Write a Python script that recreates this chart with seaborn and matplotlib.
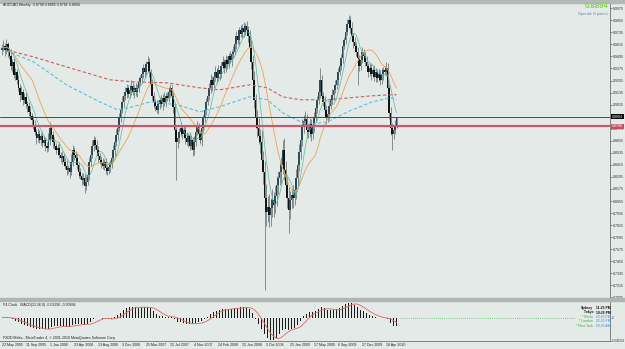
import numpy as np
import pandas as pd
import matplotlib
matplotlib.use("Agg")
import matplotlib.pyplot as plt
import matplotlib.transforms as mtransforms
from matplotlib.patches import Rectangle
import seaborn as sns

# ---------------- data ----------------
chart_title = "AUDCAD,Weekly  0.8798 0.8895 0.8781 0.8894"
bid_text = "0.8894"
spread_text = "Spread: 8 points"
bid_price = 0.8894
red_line_price = 0.8798
red_line_text = "0.8798"
macd_title = "P4 Clock   MACD(12,26,9) -0.01296 -0.00896"
copyright_text = "FXDD Malta - MetaTrader 4, \u00a9 2001-2010 MetaQuotes Software Corp."

first_open_pips = 9560
close_pips = [
    9580, 9600, 9560, 9620, 9540, 9500, 9401, 9441, 9311, 9341,
    9262, 9182, 9113, 9143, 9063, 9093, 9023, 9003, 8944, 8904,
    8864, 8814, 8745, 8685, 8725, 8665, 8705, 8636, 8665, 8606,
    8586, 8665, 8785, 8715, 8645, 8606, 8566, 8586, 8516, 8486,
    8506, 8447, 8407, 8367, 8387, 8347, 8447, 8566, 8516, 8486,
    8417, 8347, 8308, 8268, 8288, 8208, 8248, 8318, 8447, 8516,
    8606, 8665, 8616, 8566, 8506, 8467, 8437, 8407, 8447, 8387,
    8357, 8397, 8427, 8486, 8566, 8645, 8715, 8785, 8884, 8964,
    9043, 9103, 9143, 9182, 9123, 9162, 9202, 9143, 9182, 9143,
    9182, 9242, 9281, 9321, 9381, 9341, 9421, 9441, 9341, 9222,
    9103, 9043, 9003, 8964, 9023, 9063, 9023, 9083, 9043, 9103,
    9083, 9143, 9182, 9103, 8994, 8765, 8645, 8685, 8745, 8785,
    8725, 8765, 8685, 8645, 8705, 8606, 8665, 8566, 8645, 8745,
    8804, 8725, 8665, 8785, 8884, 8964, 9043, 9103, 9182, 9262,
    9212, 9291, 9341, 9281, 9361, 9321, 9401, 9441, 9381, 9461,
    9421, 9500, 9461, 9520, 9540, 9620, 9699, 9659, 9759, 9719,
    9779, 9739, 9798, 9759, 9699, 9580, 9441, 9262, 9063, 8884,
    8785, 8705, 8645, 8467, 8347, 8089, 7950, 8000, 7920, 7990,
    8069, 8019, 8109, 8218, 8288, 8347, 8417, 8566, 8367, 8218,
    8089, 7970, 8069, 8119, 8089, 8168, 8288, 8417, 8546, 8665,
    8804, 8854, 8874, 8765, 8745, 8824, 8725, 8804, 8884, 8984,
    9063, 9143, 9262, 9103, 9043, 8964, 8884, 8924, 9003, 9063,
    9113, 9162, 9212, 9262, 9341, 9401, 9480, 9600, 9659, 9739,
    9818, 9858, 9779, 9699, 9640, 9600, 9540, 9480, 9401, 9461,
    9540, 9500, 9441, 9401, 9341, 9381, 9321, 9361, 9291, 9341,
    9281, 9321, 9262, 9321, 9361, 9341, 9381, 9182, 8934, 8785,
    8725, 8765, 8798, 8894,
]
upper_wick_10pips = [
    4, 6, 3, 5, 2, 4, 7, 3, 5, 4,
    3, 5, 4, 6, 3, 4, 5, 3, 4, 6,
    3, 4, 5, 3, 6, 4, 3, 5, 4, 3,
    4, 7, 6, 3, 4, 5, 3, 4, 6, 3,
    5, 3, 4, 6, 3, 4, 8, 5, 3, 4,
    5, 3, 4, 3, 5, 4, 6, 4, 5, 3,
    6, 4, 3, 5, 4, 3, 4, 5, 3, 4,
    3, 5, 4, 3, 5, 4, 6, 3, 5, 4,
    6, 3, 5, 4, 3, 5, 6, 4, 3, 5,
    4, 5, 3, 6, 4, 5, 3, 6, 4, 3,
    5, 4, 3, 6, 4, 3, 5, 4, 6, 3,
    4, 5, 4, 3, 5, 4, 3, 5, 4, 6,
    3, 5, 4, 6, 3, 4, 5, 3, 6, 4,
    5, 3, 4, 6, 3, 5, 4, 3, 5, 6,
    4, 3, 6, 4, 5, 3, 4, 6, 3, 5,
    4, 3, 5, 4, 6, 3, 5, 4, 3, 5,
    4, 6, 3, 5, 4, 6, 8, 7, 9, 6,
    8, 10, 7, 12, 9, 11, 14, 10, 12, 9,
    11, 8, 10, 9, 7, 10, 8, 10, 12, 9,
    8, 11, 9, 7, 10, 8, 9, 7, 8, 6,
    7, 6, 8, 5, 7, 6, 5, 7, 6, 5,
    4, 6, 12, 5, 4, 6, 5, 3, 5, 4,
    6, 4, 5, 3, 4, 6, 4, 5, 3, 4,
    5, 5, 4, 6, 3, 5, 4, 5, 3, 4,
    5, 3, 4, 6, 3, 5, 4, 3, 5, 4,
    3, 5, 4, 6, 3, 4, 6, 5, 4, 6,
    5, 4, 6, 0,
]
lower_wick_10pips = [
    5, 3, 6, 4, 5, 3, 4, 6, 3, 5,
    4, 3, 6, 4, 5, 3, 4, 6, 4, 3,
    5, 4, 3, 6, 4, 3, 5, 4, 3, 5,
    4, 3, 5, 4, 6, 3, 4, 5, 3, 4,
    6, 4, 3, 5, 4, 6, 3, 4, 5, 3,
    4, 6, 3, 5, 4, 7, 4, 3, 5, 4,
    3, 5, 4, 3, 6, 4, 5, 3, 4, 6,
    4, 3, 5, 4, 3, 6, 4, 5, 3, 4,
    3, 5, 4, 6, 3, 4, 5, 3, 6, 4,
    5, 4, 3, 5, 4, 6, 3, 4, 5, 6,
    4, 6, 5, 3, 4, 5, 3, 6, 4, 5,
    3, 4, 5, 4, 6, 5, 38, 6, 5, 4,
    5, 4, 6, 3, 5, 4, 3, 6, 5, 4,
    3, 5, 4, 6, 3, 4, 5, 3, 4, 5,
    6, 3, 4, 5, 3, 6, 4, 3, 5, 4,
    5, 4, 3, 6, 4, 3, 5, 4, 6, 3,
    4, 5, 3, 4, 6, 5, 7, 9, 8, 10,
    9, 8, 11, 10, 12, 92, 14, 10, 12, 11,
    9, 12, 8, 10, 9, 7, 11, 9, 10, 12,
    10, 23, 9, 8, 10, 7, 9, 8, 6, 7,
    6, 7, 5, 8, 6, 5, 7, 5, 6, 4,
    5, 4, 6, 5, 4, 5, 6, 4, 5, 3,
    4, 5, 3, 4, 5, 3, 4, 5, 3, 4,
    3, 4, 5, 4, 6, 5, 4, 27, 5, 4,
    3, 5, 4, 3, 5, 4, 6, 3, 4, 5,
    4, 3, 5, 4, 6, 3, 4, 5, 6, 7,
    16, 5, 4, 2,
]

# slow moving averages (week index, price in pips)
red_ma_weeks = [4, 21, 43, 61, 72, 87, 110, 132, 145, 165, 177, 187, 199, 217, 232, 247, 259, 263]
red_ma_pips = [9555, 9490, 9391, 9311, 9262, 9242, 9232, 9182, 9162, 9212, 9182, 9093, 9063, 9063, 9083, 9103, 9113, 9113]
blue_ma_weeks = [3, 21, 43, 65, 77, 87, 99, 117, 132, 145, 165, 177, 187, 203, 217, 232, 247, 259, 263]
blue_ma_pips = [9550, 9441, 9212, 9043, 8964, 8993, 9043, 9013, 8944, 8993, 9093, 9063, 8934, 8814, 8844, 8954, 9043, 9083, 9063]

date_label_weeks = [0, 16, 32, 48, 64, 80, 96, 112, 128, 144, 160, 176, 192, 208, 224, 240, 256]
date_labels = ["22 May 2005", "11 Sep 2005", "1 Jan 2006", "23 Apr 2006", "13 Aug 2006",
               "3 Dec 2006", "25 Mar 2007", "15 Jul 2007", "4 Nov 2007", "24 Feb 2008",
               "15 Jun 2008", "5 Oct 2008", "25 Jan 2009", "17 May 2009", "6 Sep 2009",
               "27 Dec 2009", "18 Apr 2010"]

price_tick_labels = ["0.7095", "0.7215", "0.7335", "0.7455", "0.7575", "0.7695", "0.7815",
                     "0.7935", "0.8055", "0.8175", "0.8295", "0.8415", "0.8535", "0.8655",
                     "0.8775", "0.8895", "0.9015", "0.9135", "0.9255", "0.9375", "0.9495",
                     "0.9615", "0.9735", "0.9855", "0.9975"]

clock_cities = ["Sydney", "Tokyo", "* Berlin", "* London", "* New York"]
clock_times = ["11:25 PM", "10:25 PM", "03:25 PM", "02:25 PM", "09:25 AM"]

# ---------------- styling ----------------
BG = "#E3EAE7"
sns.set_style("white", {"axes.facecolor": BG, "figure.facecolor": BG})
plt.rcParams["font.family"] = ["Liberation Sans", "DejaVu Sans"]

W, H = 625, 349
SMALL = 2.6


def rect_px(x0, y0, x1, y1):
    return [x0 / W, 1 - y1 / H, (x1 - x0) / W, (y1 - y0) / H]


fig = plt.figure(figsize=(W / 100, H / 100), dpi=100, facecolor=BG)
ax = fig.add_axes(rect_px(0, 2.5, 610, 297.5))
ax2 = fig.add_axes(rect_px(0, 301, 610, 341), sharex=ax)
for a in (ax, ax2):
    a.set_facecolor(BG)

# ---------------- candles ----------------
closes = np.array(close_pips) / 10000.0
opens = np.concatenate([[first_open_pips], close_pips[:-1]]) / 10000.0
highs = np.maximum(opens, closes) + np.array(upper_wick_10pips) * 0.001
lows = np.minimum(opens, closes) - np.array(lower_wick_10pips) * 0.001
weeks = np.arange(len(closes))

ax.vlines(weeks, lows, highs, color="#747E7C", linewidth=0.6, zorder=2)
body_bottom = np.minimum(opens, closes)
body_h = np.maximum(np.abs(closes - opens), 0.0008)
bull = closes >= opens
ax.bar(weeks[bull], body_h[bull], bottom=body_bottom[bull], width=0.8,
       color="#2C4C5A", linewidth=0, zorder=3)
ax.bar(weeks[~bull], body_h[~bull], bottom=body_bottom[~bull], width=0.8,
       color="#101414", linewidth=0, zorder=3)

# ---------------- moving averages ----------------
df = pd.DataFrame({"week": weeks, "close": closes})
df["ma_fast"] = df["close"].rolling(8, min_periods=1).mean()
df["ma_mid"] = df["close"].rolling(21, min_periods=1).mean()

sns.lineplot(x=red_ma_weeks, y=np.array(red_ma_pips) / 10000.0, ax=ax,
             color="#CF5C5C", linewidth=0.8, linestyle=(0, (3, 2)), zorder=4)
sns.lineplot(x=blue_ma_weeks, y=np.array(blue_ma_pips) / 10000.0, ax=ax,
             color="#58BFE0", linewidth=0.8, linestyle=(0, (3, 2)), zorder=4)
sns.lineplot(data=df, x="week", y="ma_mid", ax=ax, color="#F2A24E", linewidth=0.6, zorder=4)
sns.lineplot(data=df, x="week", y="ma_fast", ax=ax, color="#54BCA0", linewidth=0.5, zorder=4)

ax.axhline(bid_price, color="#4A4A4A", linewidth=0.7, zorder=5)
ax.axhline(red_line_price, color="#D9506A", linewidth=1.5, zorder=5)

ax.set_xlim(-1.333, 405.33)
ax.set_ylim(0.7094, 1.0032)
ax.set_xlabel("")
ax.set_ylabel("")

# right price axis
ax.yaxis.tick_right()
ax.set_yticks([float(t) for t in price_tick_labels])
ax.set_yticklabels(price_tick_labels)
ax.tick_params(axis="y", labelsize=SMALL, length=1.2, width=0.4, pad=0.6, colors="#303030",
               direction="out")
ax.tick_params(axis="x", bottom=False, labelbottom=False)
for s in ["top", "left", "bottom"]:
    ax.spines[s].set_visible(False)
ax.spines["right"].set_color("#707070")
ax.spines["right"].set_linewidth(0.6)

ytr = ax.get_yaxis_transform()
ax.text(1.003, bid_price, bid_text, transform=ytr, fontsize=SMALL, color="white",
        va="center", ha="left", zorder=10, clip_on=False,
        bbox=dict(boxstyle="square,pad=0.2", fc="#000000", ec="none"))
ax.text(1.003, red_line_price, red_line_text, transform=ytr, fontsize=SMALL, color="white",
        va="center", ha="left", zorder=10, clip_on=False,
        bbox=dict(boxstyle="square,pad=0.2", fc="#D24A62", ec="none"))

# ---------------- MACD ----------------
ema12 = df["close"].ewm(span=12, adjust=False).mean()
ema26 = df["close"].ewm(span=26, adjust=False).mean()
df["macd"] = ema12 - ema26
df["signal"] = df["macd"].rolling(9, min_periods=1).mean()

ax2.bar(weeks, df["macd"], width=0.62, color="#1C1C1C", linewidth=0, zorder=2)
sns.lineplot(data=df, x="week", y="signal", ax=ax2, color="#E0665E", linewidth=0.6, zorder=3)
lo = df["macd"].min() * 1.04
hi = df["macd"].max() * 1.10
ax2.set_ylim(lo, hi)
ax2.set_xlabel("")
ax2.set_ylabel("")
ax2.yaxis.tick_right()
ax2.set_yticks([hi, 0, lo])
ax2.set_yticklabels([f"{hi:.6f}", "0", f"{lo:.6f}"])
ax2.tick_params(axis="y", labelsize=2.1, length=1.0, width=0.4, pad=0.5, colors="#303030")
ax2.set_xticks(date_label_weeks)
ax2.tick_params(axis="x", length=1.2, width=0.4, labelbottom=False, colors="#505050")
for s in ["top", "left"]:
    ax2.spines[s].set_visible(False)
for s in ["right", "bottom"]:
    ax2.spines[s].set_color("#707070")
    ax2.spines[s].set_linewidth(0.6)

# dotted clock guide line at zero
ax2.plot([weeks[-1] + 2, 381], [0, 0], color="#5CC05C", linewidth=0.6,
         linestyle=(0, (1, 1.5)), zorder=3)

btr = mtransforms.blended_transform_factory(ax2.transData, ax2.transAxes)
for wk, lab in zip(date_label_weeks, date_labels):
    ax2.text(wk, -0.1, lab, transform=btr, fontsize=SMALL, ha="left", va="center",
             color="#202020", clip_on=False)

# ---------------- texts ----------------
fig.text(3 / W, 1 - 5 / H, chart_title, fontsize=SMALL, color="#202020", va="center", ha="left")
fig.text(608 / W, 1 - 7 / H, bid_text, fontsize=5.6, fontweight="bold", color="#7EDC2E",
         va="center", ha="right")
fig.text(608 / W, 1 - 13.5 / H, spread_text, fontsize=3.0, color="#6A8CB0",
         va="center", ha="right")
fig.text(3 / W, 1 - 305 / H, macd_title, fontsize=SMALL, color="#202020", va="center", ha="left")
fig.text(3 / W, 1 - 337.5 / H, copyright_text, fontsize=SMALL, color="#202020",
         va="center", ha="left")

clock_y = [308, 312.5, 317, 321.5, 326]
for i, (city, tm, yy) in enumerate(zip(clock_cities, clock_times, clock_y)):
    if i < 2:
        kw = dict(fontsize=2.4, fontweight="bold", color="#101010")
        kw2 = kw
    else:
        kw = dict(fontsize=2.4, color="#3DAA3D")
        kw2 = dict(fontsize=2.4, color="#3C8FE0")
    fig.text(593 / W, 1 - yy / H, city, va="center", ha="right", **kw)
    fig.text(596 / W, 1 - yy / H, tm, va="center", ha="left", **kw2)

# window frame bars
fig.patches.append(Rectangle((0, 1 - 2.5 / H), 1, 2.5 / H, transform=fig.transFigure,
                             color="#B4B8B6", zorder=0))
fig.patches.append(Rectangle((0, 1 - 301 / H), 1, 3.3 / H, transform=fig.transFigure,
                             color="#B0B4B2", zorder=0))

fig.savefig("out.png", dpi=100, facecolor=BG)
